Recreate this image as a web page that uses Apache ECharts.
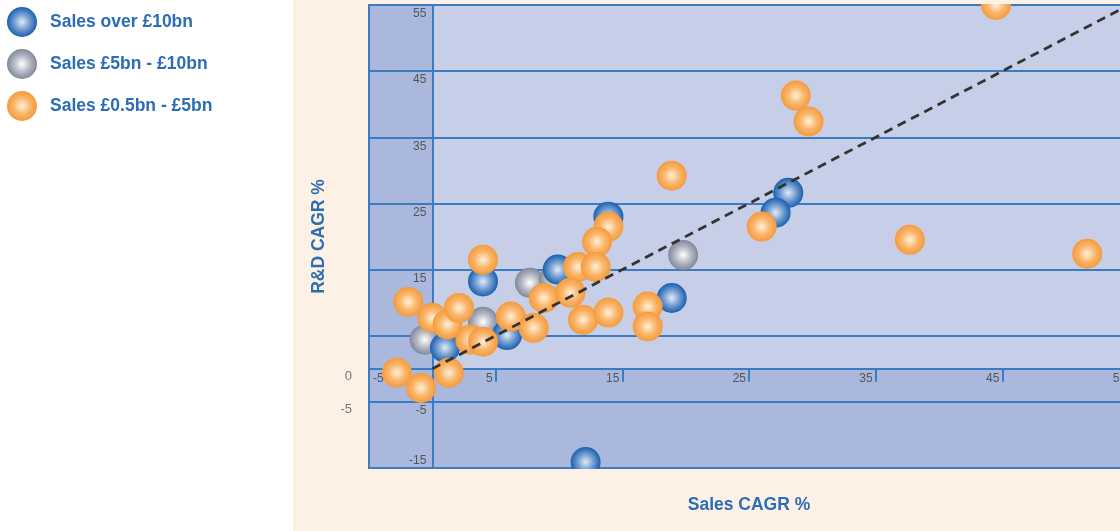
<!DOCTYPE html>
<html>
<head>
<meta charset="utf-8">
<script src="https://cdn.jsdelivr.net/npm/echarts@6/dist/echarts.min.js"></script>
<style>
    html, body { margin: 0; padding: 0; background: #ffffff; }
    #chart { width: 1120px; height: 531px; }
</style>
</head>
<body>
<div id="chart"></div>
<script>
// 图例名称
var groupNames = ['Sales over £10bn', 'Sales £5bn - £10bn', 'Sales £0.5bn - £5bn'];
// [Sales CAGR %, R&D CAGR %]
var bigSales = [[28.1, 26.6], [27.1, 23.6], [18.9, 10.7], [13.9, 23.0], [9.9, 15.0],
    [4.0, 13.2], [5.9, 5.1], [1.0, 3.2], [12.1, -14.1]];
var midSales = [[19.8, 17.2], [7.7, 13.0], [9.6, 13.5], [4.0, 7.1], [-0.6, 4.4]];
var smallSales = [[44.5, 55], [28.7, 41.3], [29.7, 37.4], [18.9, 29.2], [26.0, 21.5],
    [37.7, 19.5], [51.7, 17.4], [13.9, 21.5], [13.0, 19.2], [11.5, 15.4], [12.9, 15.4],
    [4.0, 16.5], [-1.9, 10.1], [0, 7.7], [1.2, 6.7], [2.1, 9.2], [3.0, 4.4], [4.0, 4.1],
    [6.2, 7.9], [8.0, 6.2], [8.8, 10.7], [10.9, 11.5], [11.9, 7.4], [13.9, 8.5],
    [17.0, 9.4], [17.0, 6.4], [-2.8, -0.6], [-0.9, -2.9], [1.3, -0.6]];
// 对角参考线 y = x
var diagonal = [[0, 0], [55, 55]];
// 坐标轴范围
var xRange = [-5, 55];
var yRange = [-15, 55];
// 左侧外部刻度
var outerYLabels = [0, -5];

var blue = '#2d6db5';
var lineBlue = '#3b7bc2';
var peach = '#fdf1e6';

/*圆球渐变*/
function ball(center, mid, edge) {
    return new echarts.graphic.RadialGradient(0.5, 0.5, 0.5, [
        { offset: 0, color: center },
        { offset: 0.55, color: mid },
        { offset: 1, color: edge }
    ]);
}

var myChart = echarts.init(document.getElementById('chart'));

var option = {
    animation: false,
    textStyle: { fontFamily: 'Liberation Sans' },
    graphic: [{
        type: 'rect',
        z: -10,
        silent: true,
        shape: { x: 293, y: 0, width: 827, height: 531 },
        style: { fill: peach }
    }, {
        // 裁掉超出绘图区的圆球(上下边)
        type: 'rect',
        z: 100,
        silent: true,
        shape: { x: 369, y: 469, width: 751, height: 16 },
        style: { fill: peach }
    }, {
        type: 'rect',
        z: 100,
        silent: true,
        shape: { x: 369, y: 0, width: 751, height: 4 },
        style: { fill: peach }
    }],
    legend: {
        orient: 'vertical',
        left: 2,
        top: 2,
        icon: 'circle',
        itemWidth: 30,
        itemHeight: 30,
        itemGap: 12,
        data: groupNames,
        textStyle: {
            color: blue,
            fontSize: 17.5,
            fontWeight: 'bold',
            padding: [0, 0, 0, 8]
        }
    },
    grid: {
        left: 369,
        right: -9,
        top: 5,
        bottom: 63,
        outerBoundsMode: 'none',
        containLabel: false,
        show: true,
        backgroundColor: '#a9b8dc',
        borderColor: lineBlue,
        borderWidth: 2
    },
    xAxis: {
        type: 'value',
        min: xRange[0],
        max: xRange[1],
        interval: 10,
        z: 5,
        name: 'Sales CAGR %',
        nameLocation: 'middle',
        nameGap: 127,
        nameTextStyle: { color: blue, fontSize: 17.5, fontWeight: 'bold' },
        axisLine: { onZero: false, lineStyle: { color: lineBlue, width: 2 } },
        axisTick: { show: true, length: 13, lineStyle: { color: lineBlue, width: 2 } },
        axisLabel: {
            color: '#555',
            fontSize: 12,
            margin: 4,
            align: 'right',
            alignMinLabel: 'left',
            padding: [0, 3, 0, 4]
        },
        splitLine: { show: false }
    },
    yAxis: [{
        type: 'value',
        min: yRange[0],
        max: yRange[1],
        interval: 10,
        z: 5,
        name: 'R&D CAGR %',
        nameLocation: 'middle',
        nameGap: 104,
        nameRotate: 90,
        nameTextStyle: { color: blue, fontSize: 17.5, fontWeight: 'bold' },
        axisLine: { onZero: false, lineStyle: { color: lineBlue, width: 2 } },
        axisTick: { show: false },
        axisLabel: {
            color: '#555',
            fontSize: 12,
            margin: 6,
            verticalAlign: 'top',
            verticalAlignMinLabel: 'bottom',
            padding: [3, 0, 1, 0]
        },
        splitLine: { show: true, lineStyle: { color: lineBlue, width: 2 } }
    }, {
        type: 'value',
        position: 'left',
        min: yRange[0],
        max: yRange[1],
        interval: 5,
        axisLine: { show: false, onZero: false },
        axisTick: { show: false },
        splitLine: { show: false },
        axisLabel: {
            color: '#777',
            fontSize: 13,
            margin: 17,
            verticalAlign: 'top',
            padding: [1, 0, 0, 0],
            formatter: function(v) {
                return outerYLabels.indexOf(v) > -1 ? String(v) : '';
            }
        }
    }],
    series: [{
        name: groupNames[1],
        type: 'scatter',
        z: 10,
        symbolSize: 30,
        data: midSales,
        itemStyle: { color: ball('#ffffff', '#b4b8c4', '#808899'), opacity: 1 },
        markArea: {
            silent: true,
            z: 1,
            itemStyle: { color: '#c6cfe7' },
            data: [[{ coord: [0, 0] }, { coord: [xRange[1], yRange[1]] }]]
        }
    }, {
        name: groupNames[0],
        type: 'scatter',
        z: 11,
        symbolSize: 30,
        data: bigSales,
        itemStyle: { color: ball('#e4eaf5', '#6d9ad0', '#1a5fae'), opacity: 1 }
    }, {
        name: groupNames[2],
        type: 'scatter',
        z: 12,
        symbolSize: 30,
        data: smallSales,
        itemStyle: { color: ball('#fff0dc', '#fab66a', '#f49a3e'), opacity: 1 }
    }, {
        name: 'diagonal',
        type: 'line',
        z: 20,
        silent: true,
        showSymbol: false,
        symbol: 'none',
        data: diagonal,
        lineStyle: { color: '#333', width: 2.8, type: [9, 6] }
    }]
};

myChart.setOption(option);

/*把主坐标轴移到原点: 由坐标系换算偏移量*/
var origin = myChart.convertToPixel({ gridIndex: 0 }, [0, 0]);
var corner = myChart.convertToPixel({ gridIndex: 0 }, [xRange[0], yRange[0]]);
myChart.setOption({
    xAxis: { offset: -(corner[1] - origin[1]) },
    yAxis: [{ offset: -(origin[0] - corner[0]) }, {}]
});
</script>
</body>
</html>
